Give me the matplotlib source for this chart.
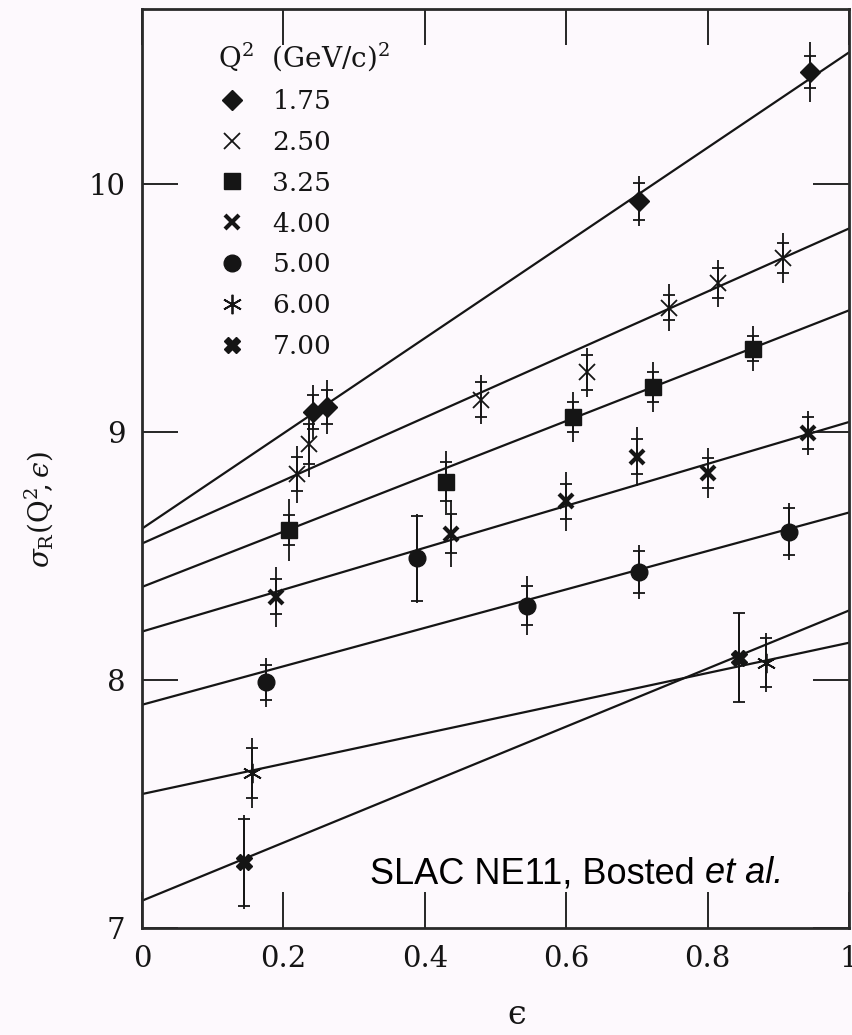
import numpy as np
import matplotlib.pyplot as plt
from matplotlib.lines import Line2D

# data (SLAC NE11 reduced cross sections)
q2_labels = ['1.75', '2.50', '3.25', '4.00', '5.00', '6.00', '7.00']

eps_175 = [0.242, 0.262, 0.703, 0.945]
sig_175 = [9.08, 9.10, 9.93, 10.45]
out_175 = [0.11, 0.11, 0.10, 0.12]
in_175 = [0.07, 0.07, 0.075, 0.065]

eps_250 = [0.219, 0.236, 0.48, 0.63, 0.746, 0.815, 0.907]
sig_250 = [8.83, 8.95, 9.13, 9.24, 9.50, 9.60, 9.70]
out_250 = [0.115, 0.13, 0.10, 0.10, 0.095, 0.095, 0.10]
in_250 = [0.07, 0.08, 0.07, 0.07, 0.05, 0.06, 0.06]

eps_325 = [0.208, 0.43, 0.61, 0.723, 0.864]
sig_325 = [8.605, 8.80, 9.06, 9.18, 9.335]
out_325 = [0.125, 0.125, 0.10, 0.10, 0.09]
in_325 = [0.06, 0.08, 0.06, 0.06, 0.05]

eps_400 = [0.189, 0.437, 0.60, 0.70, 0.80, 0.942]
sig_400 = [8.335, 8.59, 8.72, 8.90, 8.835, 8.995]
out_400 = [0.12, 0.135, 0.12, 0.12, 0.10, 0.09]
in_400 = [0.07, 0.08, 0.07, 0.07, 0.06, 0.065]

eps_500 = [0.175, 0.389, 0.545, 0.703, 0.915]
sig_500 = [7.99, 8.49, 8.30, 8.435, 8.597]
out_500 = [0.10, 0.18, 0.12, 0.11, 0.115]
in_500 = [0.07, 0.17, 0.08, 0.085, 0.095]

eps_600 = [0.155, 0.883]
sig_600 = [7.625, 8.07]
out_600 = [0.14, 0.12]
in_600 = [0.10, 0.10]

eps_700 = [0.144, 0.845]
sig_700 = [7.265, 8.09]
out_700 = [0.19, 0.18]
in_700 = [0.175, 0.18]

# straight-line fits, value at eps = 0 and eps = 1
fit_eps = [0.0, 1.0]
fit_at_0 = [8.61, 8.55, 8.375, 8.195, 7.90, 7.54, 7.11]
fit_at_1 = [10.53, 9.82, 9.49, 9.04, 8.675, 8.15, 8.28]

series = [
    (eps_175, sig_175, out_175, in_175),
    (eps_250, sig_250, out_250, in_250),
    (eps_325, sig_325, out_325, in_325),
    (eps_400, sig_400, out_400, in_400),
    (eps_500, sig_500, out_500, in_500),
    (eps_600, sig_600, out_600, in_600),
    (eps_700, sig_700, out_700, in_700),
]

styles = [
    dict(marker='D', markersize=10),
    dict(marker='x', markersize=12, markeredgewidth=1.3),
    dict(marker='s', markersize=11),
    dict(marker='x', markersize=10, markeredgewidth=3.0),
    dict(marker='o', markersize=12),
    dict(marker=(6, 2, 0), markersize=14, markeredgewidth=1.3),
    dict(marker='X', markersize=12),
]

ink = '#151515'
bg = '#fdf9fd'
plt.rcParams['mathtext.fontset'] = 'dejavuserif'

fig = plt.figure(figsize=(8.52, 10.35), dpi=100, facecolor=bg)
ax = fig.add_axes([142 / 852, 1 - 928 / 1035, 707 / 852, 919 / 1035])
ax.set_facecolor(bg)

for a, b in zip(fit_at_0, fit_at_1):
    ax.plot(fit_eps, [a, b], color=ink, lw=1.6, zorder=2)

for (e, s, eo, ei), st in zip(series, styles):
    ax.errorbar(e, s, yerr=eo, fmt='none', ecolor=ink, elinewidth=1.3,
                capsize=0, zorder=3)
    ax.errorbar(e, s, yerr=ei, fmt='none', ecolor=ink, elinewidth=1.3,
                capsize=4, capthick=1.3, zorder=3)
    ax.plot(e, s, linestyle='none', color=ink, markerfacecolor=ink,
            markeredgecolor=ink, zorder=4, **st)

ax.set_xlim(0, 1)
ax.set_ylim(7, 10.705)
ax.set_xticks([0, 0.2, 0.4, 0.6, 0.8, 1])
ax.set_xticklabels(['0', '0.2', '0.4', '0.6', '0.8', '1'])
ax.set_yticks([7, 8, 9, 10])
ax.tick_params(direction='in', length=26, width=1.3, top=True, right=True,
               labelsize=21, colors=ink, pad=12)
for lab in ax.get_xticklabels() + ax.get_yticklabels():
    lab.set_family('DejaVu Serif')
for sp in ax.spines.values():
    sp.set_linewidth(2.0)
    sp.set_color('#2a2a2a')

ax.set_ylabel('$\\sigma_{\\rm R}(\\mathrm{Q}^2\\!,\u03f5)$', fontsize=20,
              color=ink)
ax.yaxis.set_label_coords(-0.122, 0.455)
ax.set_xlabel('\u03f5', fontsize=24, family='DejaVu Serif', color=ink)
ax.xaxis.set_label_coords(0.53, -0.077)

handles = [Line2D([], [], linestyle='none', color=ink, markerfacecolor=ink,
                  markeredgecolor=ink, **st) for st in styles]
leg = ax.legend(handles, q2_labels, title=r'Q$^2$  (GeV/c)$^2$',
                loc='upper left', bbox_to_anchor=(0.108, 0.966),
                frameon=False, handlelength=1.0, handletextpad=1.05,
                labelspacing=0.6, borderpad=0, borderaxespad=0,
                alignment='left',
                prop={'family': 'DejaVu Serif', 'size': 19},
                title_fontproperties={'family': 'DejaVu Serif', 'size': 20})
for t in leg.get_texts():
    t.set_color(ink)
leg.get_title().set_color(ink)

t1 = ax.text((370 - 142) / 707, (928 - 891) / 919, 'SLAC NE11, Bosted ',
             transform=ax.transAxes, fontsize=26, family='Liberation Sans',
             color='black', ha='left', va='bottom')
ax.annotate('et al.', xy=(1, 0), xycoords=t1, fontsize=26,
            family='Liberation Sans', style='italic', color='black',
            ha='left', va='bottom')

fig.savefig('out.png', dpi=100, facecolor=bg)
